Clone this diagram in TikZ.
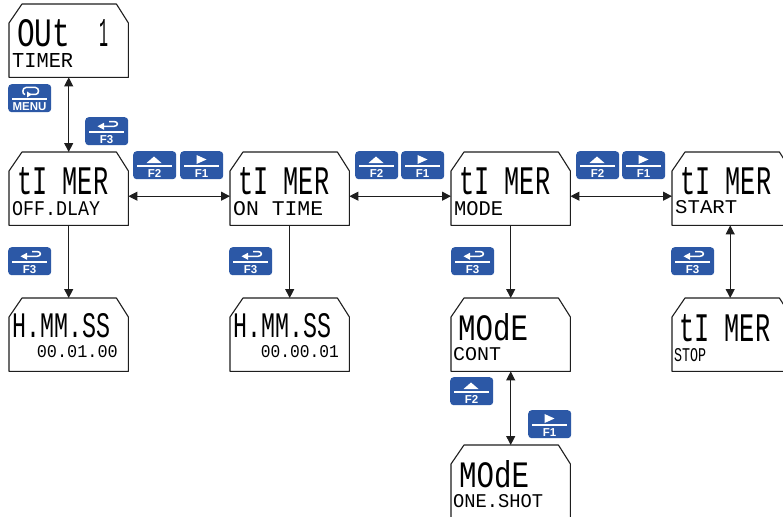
\documentclass[tikz,border=0pt]{standalone}
\usepackage{fontspec}
\usepackage{graphicx}
\newfontfamily\lcdfont{Liberation Mono}
\newfontfamily\btnfont{Liberation Sans}
\usetikzlibrary{arrows.meta,calc}
\definecolor{btnblue}{RGB}{44,88,166}
\definecolor{lcdline}{RGB}{30,30,30}
\newcommand{\lcdtxt}[3]{\resizebox{#1pt}{#2pt}{\lcdfont #3}}
\newcommand{\dispbox}[3]{%
  \node[disp,anchor=north west] (#1) at (#2,#3) {};
  \draw[outline] ([yshift=-19pt]#1.north west) -- ([xshift=13pt]#1.north west)
    -- ([xshift=-12pt]#1.north east) -- ([yshift=-19pt]#1.north east)
    -- (#1.south east) -- (#1.south west) -- cycle;}
\newcommand{\iconup}{\fill[white] (13.5,12) -- (28.5,12) -- (21,5.5) -- cycle;}
\newcommand{\iconright}{\fill[white] (16.5,4) -- (16.5,13) -- (26.5,8.5) -- cycle;}
\newcommand{\iconret}{%
  \draw[white,line width=1.5pt] (24,4.5) -- (29,4.5) .. controls (33.5,4.5) and (33.5,9.3) .. (29,9.3) -- (18,9.3);
  \fill[white] (12.5,9.3) -- (19,5.8) -- (19,12.8) -- cycle;}
\newcommand{\iconmenu}{%
  \draw[white,line width=1.5pt] (21,10.5) -- (27.5,10.5) .. controls (31.5,10.5) and (31.5,3.5) .. (27.5,3.5)
    -- (18,3.5) .. controls (14,3.5) and (14,10.5) .. (17,10.5);
  \fill[white] (23.5,10.5) -- (19,7.5) -- (19,13.5) -- cycle;}
\newcommand{\mybtn}[5]{%
  \node[btn,anchor=north west] (#1) at (#2,#3) {};
  \begin{scope}[shift={(#1.north west)}]
    \draw[white,line width=1.6pt] (4,15) -- (39,15);
    \node[btnlabel] (#1-l) at (21.5,22.5) {#5};
    #4
  \end{scope}}
\begin{document}
\begin{tikzpicture}[x=1pt,y=-1pt,
  disp/.style={rectangle,minimum width=119pt,minimum height=73pt,inner sep=0pt,draw=none},
  btn/.style={rectangle,rounded corners=3.5pt,fill=btnblue,minimum width=43pt,minimum height=28pt,inner sep=0pt},
  btnlabel/.style={text=white,font=\btnfont\bfseries\fontsize{11.5}{11.5}\selectfont,inner sep=0pt},
  txt/.style={anchor=north west,inner sep=0pt},
  conn/.style={line width=1pt,draw=lcdline},
  dbl/.style={conn,{Triangle[length=9pt,width=9pt]}-{Triangle[length=9pt,width=9pt]}},
  sgl/.style={conn,-{Triangle[length=9pt,width=9pt]}},
  outline/.style={line width=1.1pt,draw=lcdline,line join=round}]
\fill[white] (0,0) rectangle (783,516);
\clip (0,0) rectangle (783,516);
\useasboundingbox (0,0) rectangle (783,516);

% displays
\dispbox{out}{9}{4}
\dispbox{tmr1}{9}{152}
\dispbox{tmr2}{230}{152}
\dispbox{tmr3}{451}{152}
\dispbox{tmr4}{672}{152}
\dispbox{hms1}{9}{298}
\dispbox{hms2}{230}{298}
\dispbox{cont}{451}{298}
\dispbox{stop}{672}{298}
\dispbox{shot}{451}{445}

% display texts
\node[txt] (outa) at (17,19) {\lcdtxt{53}{27}{OUt}};
\node[txt,anchor=north east] (outb) at (109,19) {\lcdtxt{9}{27}{1}};
\node[txt] (outc) at (12,53) {\lcdtxt{61}{14}{TIMER}};

\node[txt] (t1a) at (17,167) {\lcdtxt{91}{27}{tI MER}};
\node[txt] (t1b) at (12,201) {\lcdtxt{88}{14}{OFF.DLAY}};
\node[txt] (t2a) at (238,167) {\lcdtxt{91}{27}{tI MER}};
\node[txt] (t2b) at (233,201) {\lcdtxt{90}{14}{ON TIME}};
\node[txt] (t3a) at (459,167) {\lcdtxt{91}{27}{tI MER}};
\node[txt] (t3b) at (454,201) {\lcdtxt{49}{14}{MODE}};
\node[txt] (t4a) at (680,167) {\lcdtxt{91}{27}{tI MER}};
\node[txt] (t4b) at (675,200) {\lcdtxt{62}{13}{START}};

\node[txt] (h1a) at (12,313) {\lcdtxt{98}{24}{H.MM.SS}};
\node[txt,anchor=north east] (h1b) at (118,345) {\lcdtxt{81}{12}{00.01.00}};
\node[txt] (h2a) at (233,313) {\lcdtxt{98}{24}{H.MM.SS}};
\node[txt,anchor=north east] (h2b) at (339,345) {\lcdtxt{78}{12}{00.00.01}};
\node[txt] (ca) at (458,313) {\lcdtxt{70}{27}{MOdE}};
\node[txt] (cb) at (453,347) {\lcdtxt{48}{13}{CONT}};
\node[txt] (sa) at (679,314) {\lcdtxt{91}{27}{tI MER}};
\node[txt] (sb) at (674,348) {\lcdtxt{32}{13}{STOP}};
\node[txt] (oa) at (459,460) {\lcdtxt{70}{27}{MOdE}};
\node[txt] (ob) at (453,494) {\lcdtxt{90}{13}{ONE.SHOT}};

% buttons
\mybtn{bmenu}{8}{84}{\iconmenu}{MENU}
\mybtn{bf3o}{85}{117}{\iconret}{F3}
\mybtn{bf2a}{133}{151}{\iconup}{F2}
\mybtn{bf1a}{180}{151}{\iconright}{F1}
\mybtn{bf2b}{355}{151}{\iconup}{F2}
\mybtn{bf1b}{401}{151}{\iconright}{F1}
\mybtn{bf2c}{576}{151}{\iconup}{F2}
\mybtn{bf1c}{622}{151}{\iconright}{F1}
\mybtn{bf3a}{8}{247}{\iconret}{F3}
\mybtn{bf3b}{229}{247}{\iconret}{F3}
\mybtn{bf3c}{451}{247}{\iconret}{F3}
\mybtn{bf3d}{671}{247}{\iconret}{F3}
\mybtn{bf2m}{450}{377}{\iconup}{F2}
\mybtn{bf1m}{528}{410}{\iconright}{F1}

% connectors
\draw[dbl] (out.south) -- (tmr1.north);
\draw[dbl] ([yshift=-7.5pt]tmr1.east) -- ([yshift=-7.5pt]tmr2.west);
\draw[dbl] ([yshift=-7.5pt]tmr2.east) -- ([yshift=-7.5pt]tmr3.west);
\draw[dbl] ([yshift=-7.5pt]tmr3.east) -- ([yshift=-7.5pt]tmr4.west);
\draw[sgl] (tmr1.south) -- (hms1.north);
\draw[sgl] (tmr2.south) -- (hms2.north);
\draw[sgl] (tmr3.south) -- (cont.north);
\draw[dbl] ([xshift=-1.5pt]tmr4.south) -- ([xshift=-1.5pt]stop.north);
\draw[dbl] (cont.south) -- (shot.north);
\end{tikzpicture}
\end{document}
